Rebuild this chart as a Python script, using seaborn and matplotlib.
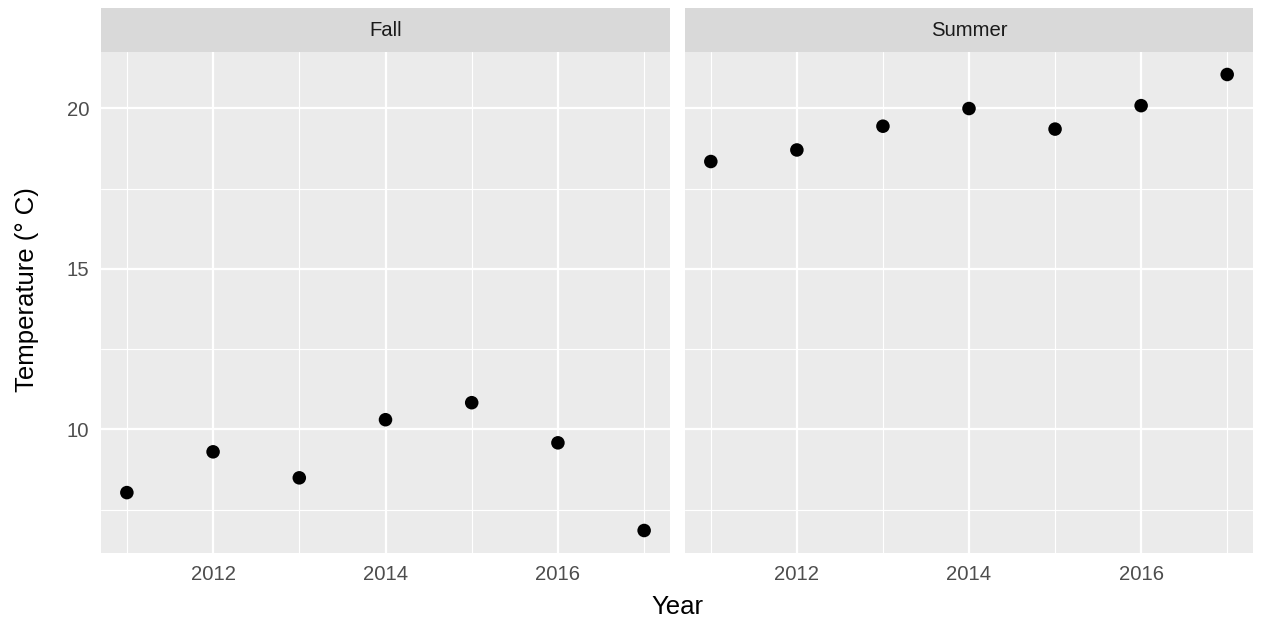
import numpy as np
import pandas as pd
import matplotlib
matplotlib.use("Agg")
import matplotlib.pyplot as plt
import seaborn as sns
from matplotlib.ticker import FixedLocator

years = [2011, 2012, 2013, 2014, 2015, 2016, 2017]
fall_temp = [8.03, 9.30, 8.49, 10.30, 10.83, 9.58, 6.85]
summer_temp = [18.34, 18.70, 19.44, 19.99, 19.35, 20.08, 21.05]
seasons = ["Fall", "Summer"]
x_ticks = [2012, 2014, 2016]
x_minor = [2011, 2013, 2015, 2017]
y_ticks = [10, 15, 20]
y_minor = [7.5, 12.5, 17.5]

df = pd.DataFrame({
    "Year": years * 2,
    "Temperature": fall_temp + summer_temp,
    "Season": ["Fall"] * len(years) + ["Summer"] * len(years),
})

sns.set_theme(style="white")
plt.rcParams["font.family"] = ["Liberation Sans", "DejaVu Sans"]

W, H = 1262, 623
fig = plt.figure(figsize=(W / 100, H / 100), dpi=100)

def frac_box(x0, y0, x1, y1):
    return [x0 / W, 1 - y1 / H, (x1 - x0) / W, (y1 - y0) / H]

panel_x = [(101, 670), (685, 1253)]
panel_top, panel_bot = 51.7, 553.3
strip_top = 8.3

allv = np.array(fall_temp + summer_temp)
rng = allv.max() - allv.min()
ylim = (allv.min() - 0.05 * rng, allv.max() + 0.05 * rng)
xr = max(years) - min(years)
xlim = (min(years) - 0.05 * xr, max(years) + 0.05 * xr)

TICK_FS = 14.6
for i, (season, (x0, x1)) in enumerate(zip(seasons, panel_x)):
    ax = fig.add_axes(frac_box(x0, panel_top, x1, panel_bot))
    ax.set_facecolor("#EBEBEB")
    sub = df[df["Season"] == season]
    sns.scatterplot(data=sub, x="Year", y="Temperature", ax=ax, color="black",
                    s=95, edgecolor="none", zorder=3, legend=False)
    ax.set_xlim(*xlim)
    ax.set_ylim(*ylim)
    ax.xaxis.set_major_locator(FixedLocator(x_ticks))
    ax.xaxis.set_minor_locator(FixedLocator(x_minor))
    ax.yaxis.set_major_locator(FixedLocator(y_ticks))
    ax.yaxis.set_minor_locator(FixedLocator(y_minor))
    ax.grid(which="major", color="white", linewidth=1.6)
    ax.grid(which="minor", color="white", linewidth=0.8)
    ax.set_axisbelow(True)
    for sp in ax.spines.values():
        sp.set_visible(False)
    ax.set_xlabel("")
    ax.set_ylabel("")
    ax.tick_params(axis="x", which="major", length=4.6, width=1.3, color="#333333",
                   labelsize=TICK_FS, labelcolor="#4D4D4D", pad=3.7)
    ax.tick_params(which="minor", length=0)
    if i == 0:
        ax.tick_params(axis="y", which="major", length=4.6, width=1.3, color="#333333",
                       labelsize=TICK_FS, labelcolor="#4D4D4D", pad=3.7)
    else:
        ax.tick_params(axis="y", which="major", length=0, labelleft=False)
    # strip
    sax = fig.add_axes(frac_box(x0, strip_top, x1, panel_top))
    sax.set_facecolor("#D9D9D9")
    sax.set_xticks([])
    sax.set_yticks([])
    for sp in sax.spines.values():
        sp.set_visible(False)
    sax.text(0.5, 0.5, season, ha="center", va="center", fontsize=TICK_FS,
             color="#1A1A1A", transform=sax.transAxes)

fig.text(677.5 / W, 1 - 607 / H, "Year", ha="center", va="center", fontsize=18.5, color="black")
fig.text(27 / W, 1 - 290 / H, "Temperature (° C)", ha="center", va="center",
         rotation=90, fontsize=18.5, color="black")

fig.savefig("out.png", dpi=100)
